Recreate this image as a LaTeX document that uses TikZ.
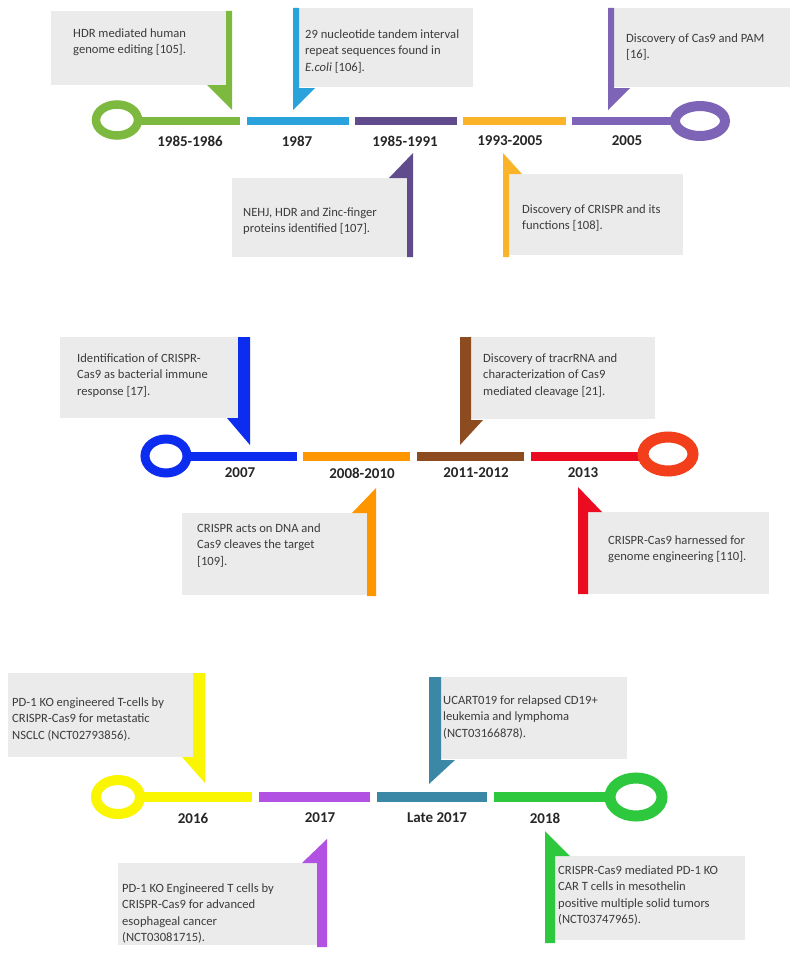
\documentclass[tikz,border=0pt]{standalone}
\usepackage{fontspec}
\setmainfont{Carlito}
\definecolor{gA}{RGB}{125,185,62}
\definecolor{bA}{RGB}{42,163,221}
\definecolor{dpA}{RGB}{96,76,140}
\definecolor{yoA}{RGB}{251,180,42}
\definecolor{pA}{RGB}{125,100,182}
\definecolor{bB}{RGB}{12,44,240}
\definecolor{oB}{RGB}{255,150,0}
\definecolor{brB}{RGB}{140,76,32}
\definecolor{rB}{RGB}{236,12,34}
\definecolor{rrB}{RGB}{242,62,26}
\definecolor{yC}{RGB}{250,245,0}
\definecolor{pC}{RGB}{178,82,226}
\definecolor{tC}{RGB}{58,136,166}
\definecolor{gC}{RGB}{46,200,62}
\definecolor{boxgray}{RGB}{235,235,235}
\definecolor{txtgray}{RGB}{60,60,60}
\tikzset{
  graybox/.style={fill=boxgray},
  calltext/.style={anchor=north west, align=left, inner sep=0pt, text=txtgray,
    font=\fontsize{12.6}{16.3}\selectfont},
  yearlabel/.style={inner sep=0pt, text=black!85, font=\bfseries\fontsize{15}{18}\selectfont},
}
\begin{document}
\begin{tikzpicture}[x=1pt,y=-1pt]
\useasboundingbox (0,0) rectangle (800,958);
\fill[white] (0,0) rectangle (800,958);

% ================= Timeline 1 =================
\draw[gA, line width=8.5pt] (117,120) ellipse [x radius=21pt, y radius=15.5pt];
\fill[gA] (137,117) rectangle (240,125);
\fill[bA] (247,117) rectangle (349,125);
\fill[dpA] (355,117) rectangle (457,125);
\fill[yoA] (463,117) rectangle (566,125);
\fill[pA] (572,117) rectangle (676,125);
\draw[pA, line width=10pt] (700,121) ellipse [x radius=25pt, y radius=15pt];

\node[yearlabel] (y1) at (190,141) {1985-1986};
\node[yearlabel] (y2) at (297,141) {1987};
\node[yearlabel] (y3) at (405,141) {1985-1991};
\node[yearlabel] (y4) at (510,141) {1993-2005};
\node[yearlabel] (y5) at (627,141) {2005};

% callout A (above, bar right)
\fill[graybox] (51,11) rectangle (226,85);
\fill[gA] (226,11) -- (232,11) -- (232,110) -- (207,85) -- (226,85) -- cycle;
\node[calltext] (tA) at (73,26) {\strut HDR mediated human\\genome editing [105].};

% callout B (above, bar left)
\fill[graybox] (299,8) rectangle (473,87);
\fill[bA] (293,8) -- (299,8) -- (299,88) -- (315,88) -- (293,110) -- cycle;
\node[calltext] (tB) at (305,27) {\strut 29 nucleotide tandem interval\\repeat sequences found in\\\textit{E.coli} [106].};

% callout C (above, bar left)
\fill[graybox] (614,8) rectangle (790,87);
\fill[pA] (608,8) -- (614,8) -- (614,88) -- (630,88) -- (608,110) -- cycle;
\node[calltext] (tC) at (626,31) {\strut Discovery of Cas9 and PAM\\{[16]}.};

% callout D (below, bar right)
\fill[graybox] (232,178) rectangle (407,257);
\fill[dpA] (413,153) -- (413,257) -- (407,257) -- (407,178) -- (389,178) -- cycle;
\node[calltext] (tD) at (243,205) {\strut NEHJ, HDR and Zinc-finger\\proteins identified [107].};

% callout E (below, bar left)
\fill[graybox] (509,174) rectangle (683,255);
\fill[yoA] (503,153) -- (522,174) -- (509,174) -- (509,257) -- (503,257) -- cycle;
\node[calltext] (tE) at (522,202) {\strut Discovery of CRISPR and its\\functions [108].};

% ================= Timeline 2 =================
\draw[bB, line width=9pt] (166,456) ellipse [x radius=21pt, y radius=17pt];
\fill[bB] (186,451.5) rectangle (297,460.5);
\fill[oB] (303,451.5) rectangle (410,460.5);
\fill[brB] (417,451.5) rectangle (524,460.5);
\fill[rB] (531,451.5) rectangle (644,460.5);
\draw[rrB, line width=11pt] (668,454) ellipse [x radius=25pt, y radius=17pt];

\node[yearlabel] (y6) at (240,473) {2007};
\node[yearlabel] (y7) at (362,473) {2008-2010};
\node[yearlabel] (y8) at (476,473) {2011-2012};
\node[yearlabel] (y9) at (583,473) {2013};

% callout F (above, bar right)
\fill[graybox] (60,337) rectangle (238,418);
\fill[bB] (238,337) -- (250,337) -- (250,445) -- (227,418) -- (238,418) -- cycle;
\node[calltext] (tF) at (77,351) {\strut Identification of CRISPR-\\Cas9 as bacterial immune\\response [17].};

% callout G (above, bar left)
\fill[graybox] (471,337) rectangle (655,419);
\fill[brB] (460,337) -- (471,337) -- (471,420) -- (483,420) -- (460,445) -- cycle;
\node[calltext] (tG) at (483,351) {\strut Discovery of tracrRNA and\\characterization of Cas9\\mediated cleavage [21].};

% callout H (below, bar right)
\fill[graybox] (182,513) rectangle (367,595);
\fill[oB] (376,488) -- (376,596) -- (367,596) -- (367,513) -- (352,513) -- cycle;
\node[calltext] (tH) at (197,521) {\strut CRISPR acts on DNA and\\Cas9 cleaves the target\\{[109]}.};

% callout I (below, bar left)
\fill[graybox] (588,512) rectangle (769,594);
\fill[rB] (578,487) -- (602,512) -- (588,512) -- (588,594) -- (578,594) -- cycle;
\node[calltext] (tI) at (608,533) {\strut CRISPR-Cas9 harnessed for\\genome engineering [110].};

% ================= Timeline 3 =================
\draw[yC, line width=10pt] (118,797) ellipse [x radius=22pt, y radius=17pt];
\fill[yC] (139,792) rectangle (252,802);
\fill[pC] (259,792) rectangle (370,802);
\fill[tC] (377,792) rectangle (487,802);
\fill[gC] (494,792) rectangle (610,802);
\draw[gC, line width=11pt] (636,797) ellipse [x radius=26pt, y radius=19pt];

\node[yearlabel] (y10) at (193,818) {2016};
\node[yearlabel] (y11) at (320,818) {2017};
\node[yearlabel] (y12) at (437,818) {Late 2017};
\node[yearlabel] (y13) at (545,818) {2018};

% callout J (above, bar right)
\fill[graybox] (8,673) rectangle (193,757);
\fill[yC] (193,673) -- (205,673) -- (205,783) -- (182,757) -- (193,757) -- cycle;
\node[calltext] (tJ) at (12,695) {\strut PD-1 KO engineered T-cells by\\CRISPR-Cas9 for metastatic\\NSCLC (NCT02793856).};

% callout K (above, bar left)
\fill[graybox] (441,677) rectangle (627,759);
\fill[tC] (429,677) -- (441,677) -- (441,760) -- (455,760) -- (429,784) -- cycle;
\node[calltext] (tK) at (443,693) {\strut UCART019 for relapsed CD19+\\leukemia and lymphoma\\(NCT03166878).};

% callout L (below, bar right)
\fill[graybox] (118,863) rectangle (317,945);
\fill[pC] (327,839) -- (327,947) -- (317,947) -- (317,863) -- (302,863) -- cycle;
\node[calltext] (tL) at (122,881) {\strut PD-1 KO Engineered T cells by\\CRISPR-Cas9 for advanced\\esophageal cancer\\(NCT03081715).};

% callout M (below, bar left)
\fill[graybox] (555,856) rectangle (745,940);
\fill[gC] (545,831) -- (570,856) -- (555,856) -- (555,943) -- (545,943) -- cycle;
\node[calltext] (tM) at (558,863) {\strut CRISPR-Cas9 mediated PD-1 KO\\CAR T cells in mesothelin\\positive multiple solid tumors\\(NCT03747965).};
\end{tikzpicture}
\end{document}
